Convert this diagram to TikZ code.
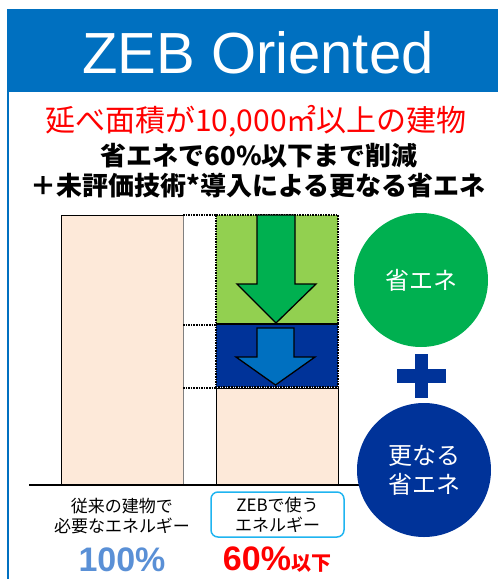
\documentclass[tikz,border=0pt]{standalone}
\usepackage{fontspec}
\setmainfont{Liberation Sans}
\newfontfamily\jp{Noto Sans CJK JP}
\usetikzlibrary{positioning}
\definecolor{zebblue}{HTML}{0070C0}
\definecolor{navy}{HTML}{003399}
\definecolor{leaf}{HTML}{92D050}
\definecolor{zgreen}{HTML}{00B050}
\definecolor{beige}{HTML}{FDE9D9}
\definecolor{sky}{HTML}{1FB4F0}
\definecolor{pct}{HTML}{5A90D6}
\tikzset{
  dotline/.style={densely dotted, line width=1.6pt},
  bar/.style={fill=beige, draw=black, line width=0.8pt},
  blockarrow/.style={draw=black, line width=1.3pt, line join=miter},
  jptext/.style={font=\jp\fontsize{17}{20}\selectfont, align=center, inner sep=0pt},
  ball/.style={circle, minimum size=134pt, inner sep=0pt, text=white, align=center,
    font=\jp\fontsize{24}{29}\selectfont}
}
\begin{document}
\begin{tikzpicture}[x=1pt,y=-1pt]
  \useasboundingbox (0,0) rectangle (498,579);
  % header and frame
  \fill[zebblue] (7,9) rectangle (498,92);
  \draw[zebblue, line width=2.5pt] (8.2,92) -- (8.2,579);
  \node[text=white, inner sep=0pt] (title) at (258,53)
    {\fontsize{58}{58}\selectfont ZEB Oriented};
  % headings
  \node[text=red, inner sep=0pt] (target) at (256,121)
    {\jp\fontsize{30}{30}\selectfont 延べ面積が10,000㎡以上の建物};
  \node[inner sep=0pt] (goal) at (259,156)
    {\jp\bfseries\fontsize{26}{26}\selectfont 省エネで60\%以下まで削減};
  \node[inner sep=0pt] (extra) at (258,186)
    {\jp\bfseries\fontsize{26}{26}\selectfont ＋未評価技術*導入による更なる省エネ};
  % bars
  \draw[bar] (61,215) rectangle (183,485);
  \draw[gray, line width=0.8pt] (183,215) -- (183,485);
  \fill[leaf] (216,215) rectangle (338,324);
  \fill[navy] (216,324) rectangle (338,387);
  \draw[bar] (216,388) rectangle (338,485);
  \begin{scope}[dotline]
    \draw (216,215) rectangle (338,324);
    \draw (216,324) rectangle (338,387);
    \draw (183,215) -- (216,215);
    \draw (183,325) -- (216,325);
    \draw (183,388) -- (216,388);
  \end{scope}
  \draw[blockarrow, fill=zgreen] (257,215) -- (295,215) -- (295,284) -- (316,284)
    -- (276,323) -- (237,284) -- (257,284) -- cycle;
  \draw[blockarrow, fill=zebblue] (257,328) -- (294,328) -- (294,357) -- (315,357)
    -- (275.5,385) -- (236,357) -- (257,357) -- cycle;
  \draw[line width=1.6pt] (29,485) -- (380,485);
  % circles
  \node[ball, fill=zgreen] (save) at (421,280) {省エネ};
  \fill[navy] (397,369) rectangle (446,383);
  \fill[navy] (415,354) rectangle (428,398);
  \node[ball, fill=navy] (more) at (424,470) {更なる\\省エネ};
  % labels
  \node[jptext] (oldlabel) at (122,516) {従来の建物で\\必要なエネルギー};
  \node[draw=sky, line width=1.5pt, rounded corners=7pt, minimum width=133pt,
    minimum height=45pt, jptext] (zeblabel) at (277.5,514.5) {ZEBで使う\\エネルギー};
  \node[text=pct, inner sep=0pt] (hundred) at (122,560)
    {\bfseries\fontsize{34}{34}\selectfont 100\%};
  \node[text=red, inner sep=0pt] (sixty) at (277,560)
    {\bfseries\fontsize{34}{34}\selectfont 60\%{\jp\fontsize{20}{20}\selectfont 以下}};
\end{tikzpicture}
\end{document}
